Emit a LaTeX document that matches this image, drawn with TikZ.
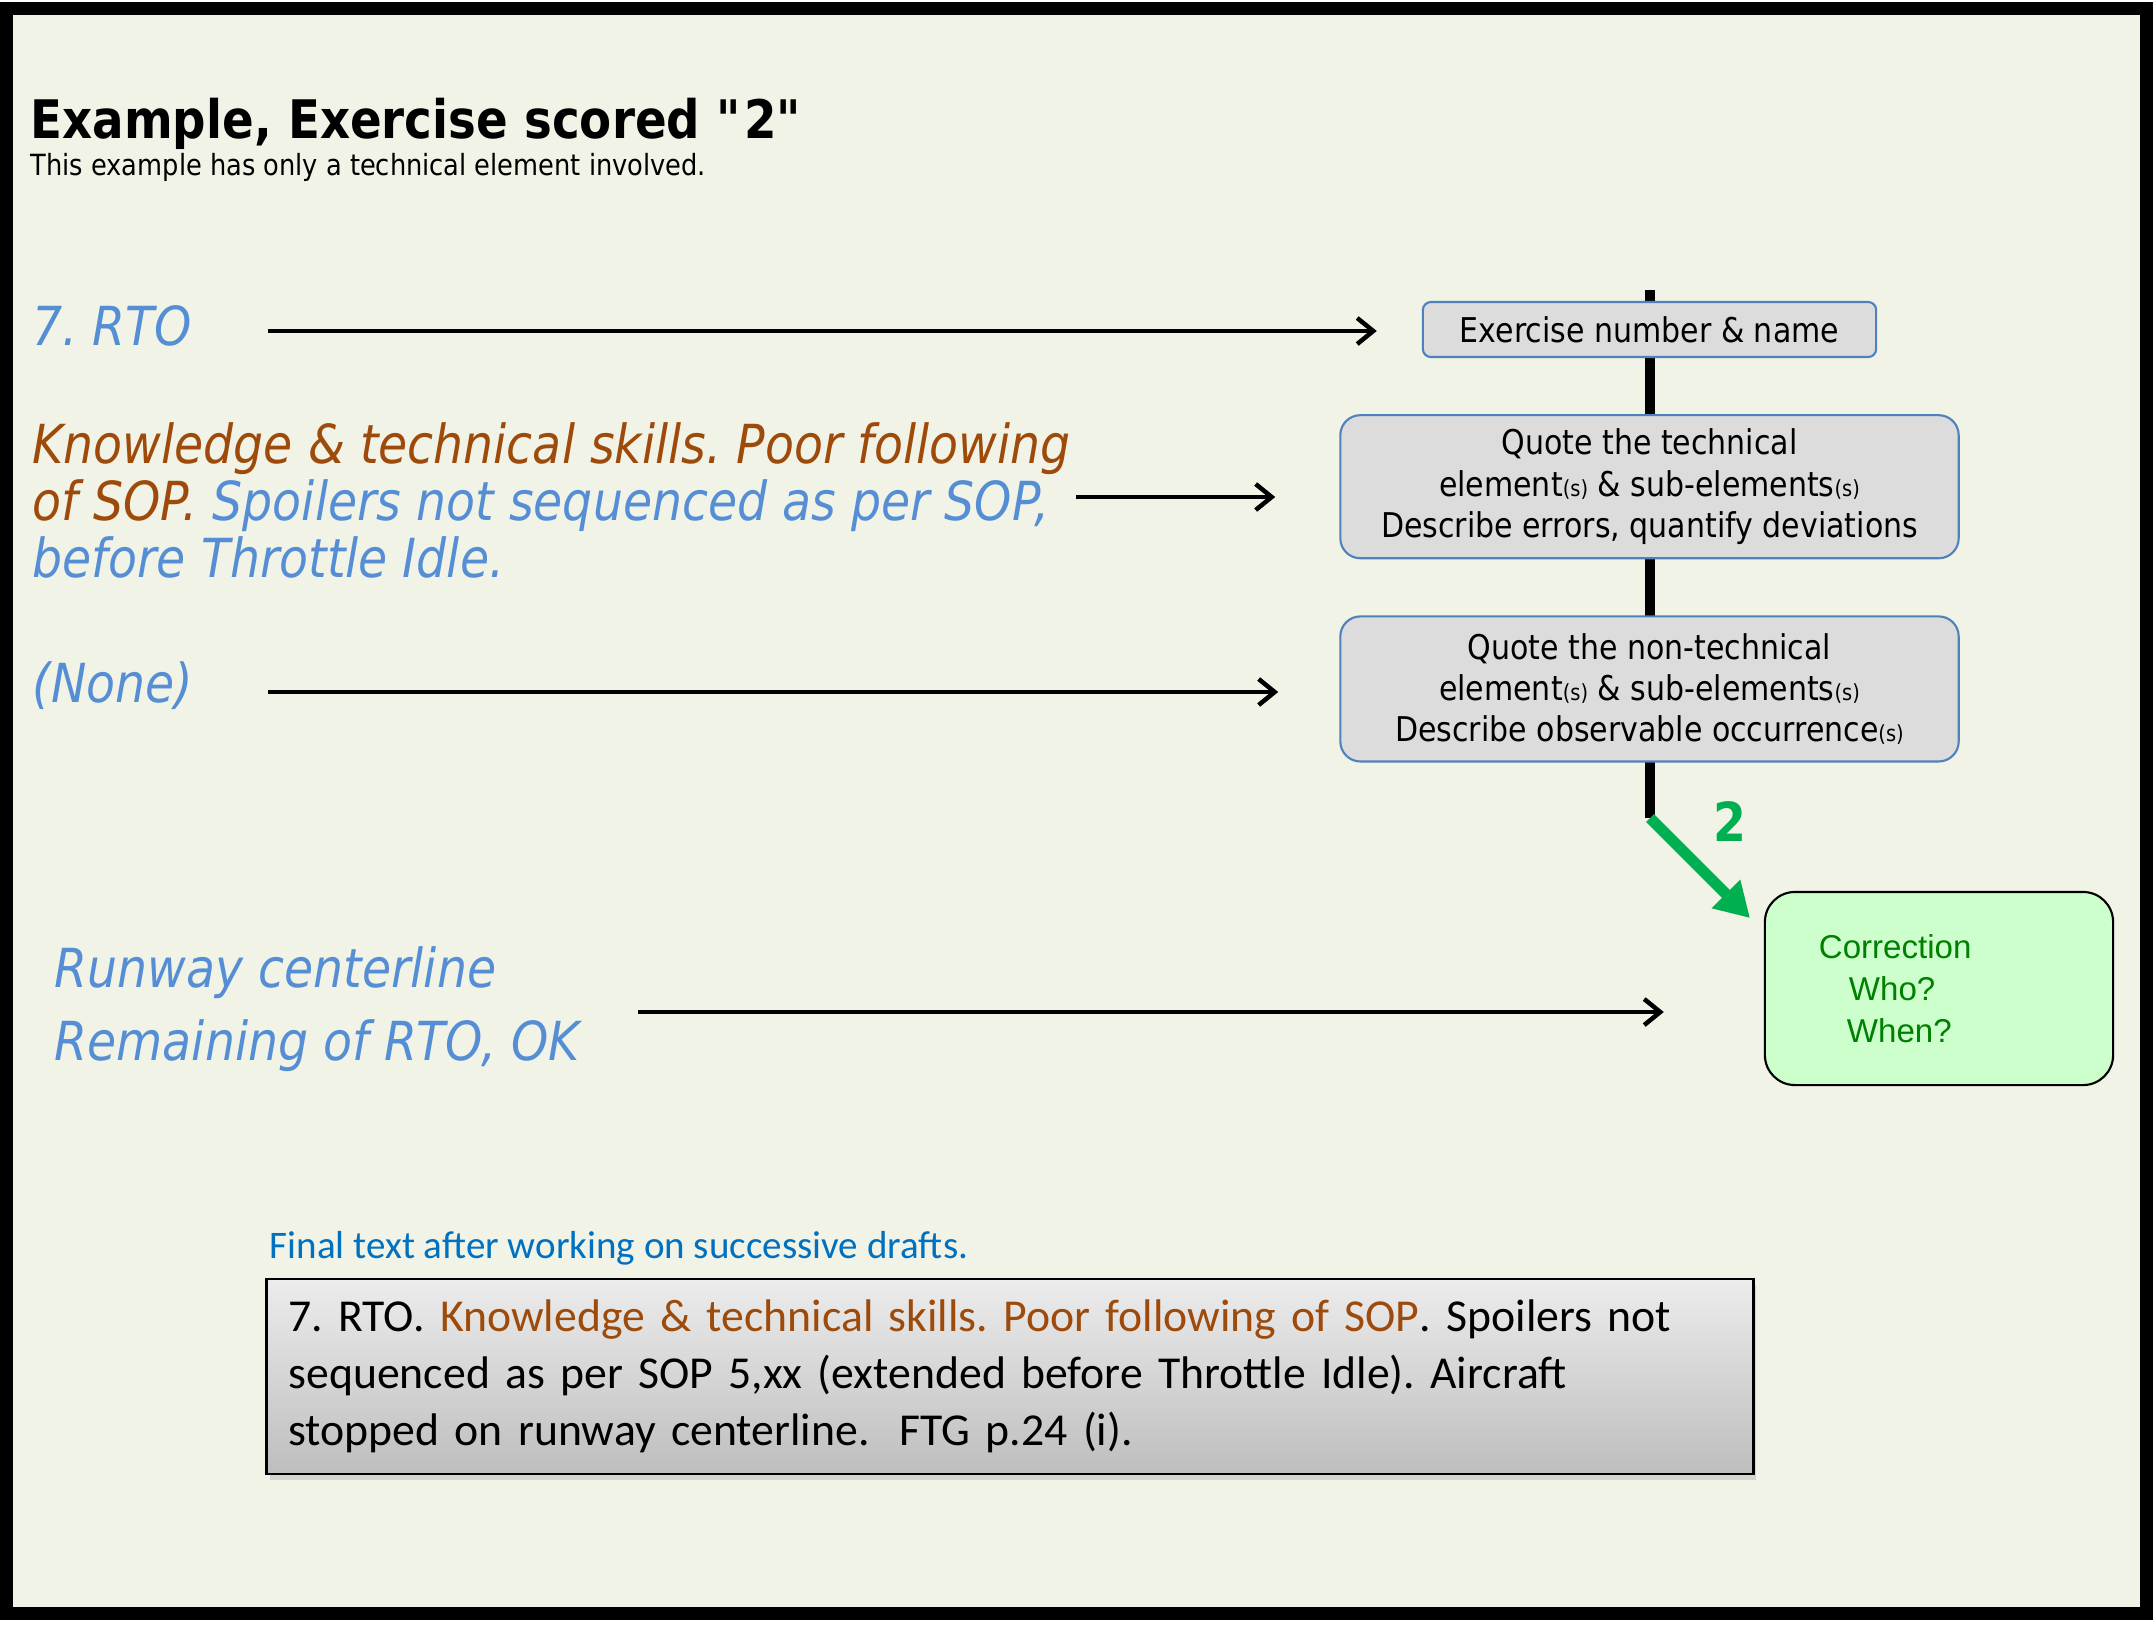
\documentclass[tikz,border=0pt]{standalone}
\usepackage{fontspec}
\setmainfont{DejaVu Sans}[FakeStretch=0.88]
\newfontfamily\arialfont{Liberation Sans}
\newfontfamily\calfont{Carlito}
\usepackage{xcolor}
\usetikzlibrary{positioning}
\usetikzlibrary{calc}
\usetikzlibrary{arrows.meta}
\usetikzlibrary{shadows}

\definecolor{SlideBg}{RGB}{240,243,230}
\definecolor{NoteBlue}{RGB}{85,142,213}
\definecolor{NoteBrown}{RGB}{157,74,10}
\definecolor{DraftBlue}{RGB}{0,112,192}
\definecolor{BoxGray}{RGB}{220,220,220}
\definecolor{BoxEdge}{RGB}{79,129,189}
\definecolor{CorrFill}{RGB}{204,255,204}
\definecolor{CorrText}{RGB}{0,128,0}
\definecolor{ScoreGreen}{RGB}{0,176,80}
\definecolor{FinalTop}{RGB}{236,236,236}
\definecolor{FinalBottom}{RGB}{190,190,190}

\newcommand{\subs}{{\fontsize{6.3}{7}\selectfont(s)}}
\newcommand{\dq}{\XeTeXglyph\the\XeTeXcharglyph"22\relax}

\tikzset{
	stepbox/.style={draw=BoxEdge, fill=BoxGray, line width=0.6pt, align=center,
		inner sep=0pt, font=\fontsize{9.7}{11.7}\selectfont},
	note/.style={anchor=base west, align=left, inner sep=0pt, text=NoteBlue,
		font=\fontsize{15.3}{16.2}\selectfont\itshape},
	feed/.style={line width=0.045cm, -{Straight Barb[length=0.16cm, width=0.26cm]}},
}

\begin{document}
\frenchspacing
\begin{tikzpicture}[x=0.01cm, y=-0.01cm]

\useasboundingbox (0,0) rectangle (2154,1626);
\fill[white] (0,0) rectangle (2154,1626);
\draw[line width=0.13cm, fill=SlideBg] (6.5,8.5) rectangle (2146,1613.5);

\node[
	anchor=base west,
	inner sep=0pt,
	font=\fontsize{15.1}{16}\selectfont\bfseries
] (title) at (30,138) {Example, Exercise scored \dq2\dq};

\node[
	anchor=base west,
	inner sep=0pt,
	font=\fontsize{8.3}{9}\selectfont
] (subtitle) at (30,175) {This example has only a technical element involved.};

% ---

\coordinate (spinetop) at (1650,290);
\coordinate (spinebot) at (1650,818);
\draw[line width=0.1cm] (spinetop) -- (spinebot);

\node[
	stepbox,
	minimum width=4.53cm,
	minimum height=0.55cm,
	rounded corners=0.08cm
] (exname) at (1649.5,329.5) {Exercise number \& name};

\node[
	stepbox,
	minimum width=6.18cm,
	minimum height=1.43cm,
	rounded corners=0.2cm,
	below=0.56cm of exname
] (techbox) {Quote the technical\\element\subs{} \& sub-elements\subs\\Describe errors, quantify deviations};

\node[
	stepbox,
	minimum width=6.18cm,
	minimum height=1.45cm,
	rounded corners=0.2cm,
	below=0.56cm of techbox
] (nontech) {Quote the non-technical\\element\subs{} \& sub-elements\subs\\Describe observable occurrence\subs};

\node[
	draw,
	fill=CorrFill,
	line width=0.6pt,
	rounded corners=0.3cm,
	minimum width=3.48cm,
	minimum height=1.93cm,
	text width=2.4cm,
	inner xsep=0.54cm,
	align=left,
	text=CorrText,
	font=\arialfont\fontsize{9.4}{12}\selectfont
] (corr) at (1939,988.5) {Correction\\\hspace*{0.3cm}Who?\\\hspace*{0.28cm}When?};

% ---

\node[note] (rto) at (32,345) {7. RTO};

\node[note] (skills) at (32,577) {\textcolor{NoteBrown}{Knowledge \& technical skills. Poor following}\\\textcolor{NoteBrown}{of SOP.} Spoilers not sequenced as per SOP,\\before Throttle Idle.};

\node[note] (none) at (32,702) {(None)};

\node[
	note,
	font=\fontsize{15.3}{20.5}\selectfont\itshape
] (runway) at (54,1060) {Runway centerline\\Remaining of RTO, OK};

\coordinate (rtotail) at (268,331);
\coordinate (skillstail) at (1076,497);
\coordinate (nonetail) at (268,692);
\coordinate (runwaytail) at (638,1012);

\draw[feed, shorten >=0.45cm] (rtotail) -- (rtotail -| exname.west);
\draw[feed, shorten >=0.64cm] (skillstail) -- (skillstail -| techbox.west);
\draw[feed, shorten >=0.61cm] (nonetail) -- (nonetail -| nontech.west);
\draw[feed, shorten >=1cm] (runwaytail) -- (runwaytail -| corr.west);

% ---

\coordinate (corrtip) at (1750,918);
\draw[ScoreGreen, line width=0.11cm, -{Triangle[length=0.34cm, width=0.38cm]}] (spinebot) -- (corrtip);

\node[
	text=ScoreGreen,
	inner sep=0pt,
	font=\fontsize{15.3}{16}\selectfont\bfseries
] (score) at (1730,822) {2};

% ---

\node[
	anchor=base west,
	inner sep=0pt,
	text=DraftBlue,
	font=\calfont\fontsize{11.1}{13}\selectfont
] (drafthead) at (269,1258) {Final text after working on successive drafts.};

\node[
	draw,
	line width=0.7pt,
	top color=FinalTop,
	bottom color=FinalBottom,
	drop shadow={opacity=0.25, shadow xshift=0.03cm, shadow yshift=-0.06cm},
	minimum width=14.86cm,
	minimum height=1.95cm,
	text width=14.42cm,
	inner xsep=0.22cm,
	align=left,
	font=\calfont\fontsize{13}{16.2}\selectfont
] (final) at (1010,1376.5) {7. RTO. \textcolor{NoteBrown}{Knowledge \& technical skills. Poor following of SOP}. Spoilers not\\sequenced as per SOP 5,xx (extended before Throttle Idle). Aircraft\\stopped on runway centerline.\ \ FTG p.24 (i).};

\end{tikzpicture}
\end{document}
